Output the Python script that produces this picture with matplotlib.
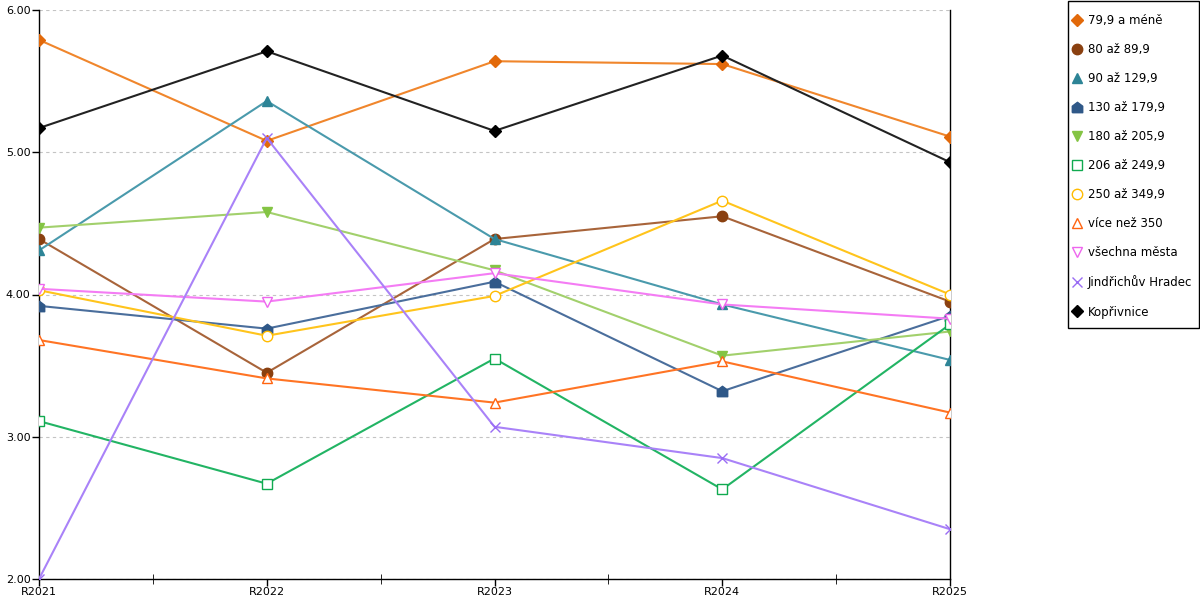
import matplotlib
matplotlib.use("Agg")
import matplotlib.pyplot as plt
from matplotlib.lines import Line2D
from matplotlib.patches import Rectangle
from matplotlib.ticker import FixedLocator, FormatStrFormatter

years = ["R2021", "R2022", "R2023", "R2024", "R2025"]

s_79 = [5.79, 5.08, 5.64, 5.62, 5.11]
s_80 = [4.39, 3.45, 4.39, 4.55, 3.95]
s_90 = [4.31, 5.36, 4.39, 3.93, 3.54]
s_130 = [3.92, 3.76, 4.09, 3.32, 3.85]
s_180 = [4.47, 4.58, 4.17, 3.57, 3.74]
s_206 = [3.11, 2.67, 3.55, 2.63, 3.79]
s_250 = [4.03, 3.71, 3.99, 4.66, 4.00]
s_350 = [3.68, 3.41, 3.24, 3.53, 3.17]
s_all = [4.04, 3.95, 4.15, 3.93, 3.83]
s_jh = [2.00, 5.10, 3.07, 2.85, 2.35]
s_kop = [5.17, 5.71, 5.15, 5.68, 4.93]

house = [(-1, -1), (1, -1), (1, 0.25), (0, 1), (-1, 0.25), (-1, -1)]

# label, values, line colour, marker colour, marker, filled
series = [
    ("79,9 a méně", s_79, "#f0862c", "#e2690a", "D", True),
    ("80 až 89,9", s_80, "#a8643a", "#8a4010", "o", True),
    ("90 až 129,9", s_90, "#4a9aac", "#2d8496", "^", True),
    ("130 až 179,9", s_130, "#4a6e9c", "#2f5888", house, True),
    ("180 až 205,9", s_180, "#a2d06c", "#84c444", "v", True),
    ("206 až 249,9", s_206, "#22b464", "#10aa50", "s", False),
    ("250 až 349,9", s_250, "#ffc41c", "#ffbb00", "o", False),
    ("více než 350", s_350, "#ff7424", "#ff6410", "^", False),
    ("všechna města", s_all, "#f47cf4", "#ee66ee", "v", False),
    ("Jindřichův Hradec", s_jh, "#a982f8", "#9a6cf4", "x", False),
    ("Kopřivnice", s_kop, "#222222", "#000000", "D", True),
]

fig = plt.figure(figsize=(12, 6), dpi=100)
ax = fig.add_axes([39 / 1200, 21 / 600, 911 / 1200, 569 / 600])

x = list(range(len(years)))
handles = []
for label, vals, lc, mc, mk, filled in series:
    fc = mc if filled else "white"
    if mk == "x":
        fc = mc
    size = 7.5 if mk != "D" else 6.5
    ax.plot(x, vals, color=lc, linewidth=1.5, marker=mk, markersize=size,
            markerfacecolor=fc, markeredgecolor=mc, markeredgewidth=1.0,
            zorder=3)
    handles.append(Line2D([], [], linestyle="none", marker=mk,
                          markersize=size, markerfacecolor=fc,
                          markeredgecolor=mc, markeredgewidth=1.0,
                          label=label))

ax.set_xlim(0, 4)
ax.set_ylim(2, 6)
ax.set_xticks(x)
ax.set_xticklabels(years)
ax.xaxis.set_minor_locator(FixedLocator([0.5, 1.5, 2.5, 3.5]))
ax.set_yticks([2, 3, 4, 5, 6])
ax.yaxis.set_major_formatter(FormatStrFormatter("%.2f"))
ax.tick_params(axis="both", labelsize=8, length=5, width=1, pad=1)
ax.tick_params(axis="x", which="minor", length=7, direction="inout")
ax.tick_params(axis="y", which="both", right=False)
ax.grid(True, axis="y", color="#c4c4c4", linestyle=(0, (3, 3)), linewidth=0.8)
ax.spines["top"].set_visible(False)
for sp in ("left", "right", "bottom"):
    ax.spines[sp].set_color("black")
    ax.spines[sp].set_linewidth(1)
ax.set_axisbelow(True)

# legend box drawn separately so the padding matches
fig.patches.append(Rectangle((1067.5 / 1200, 1 - 328 / 600), 131 / 1200,
                             327.5 / 600, transform=fig.transFigure,
                             facecolor="white", edgecolor="black",
                             linewidth=1, zorder=0))
leg = fig.legend(handles=handles, loc="upper left",
                 bbox_to_anchor=(1072 / 1200, 1 - 14 / 600), fontsize=8.5,
                 frameon=False, handlelength=0.85, handletextpad=0.5,
                 labelspacing=1.36, borderpad=0, borderaxespad=0)

fig.savefig("out.png", dpi=100)
